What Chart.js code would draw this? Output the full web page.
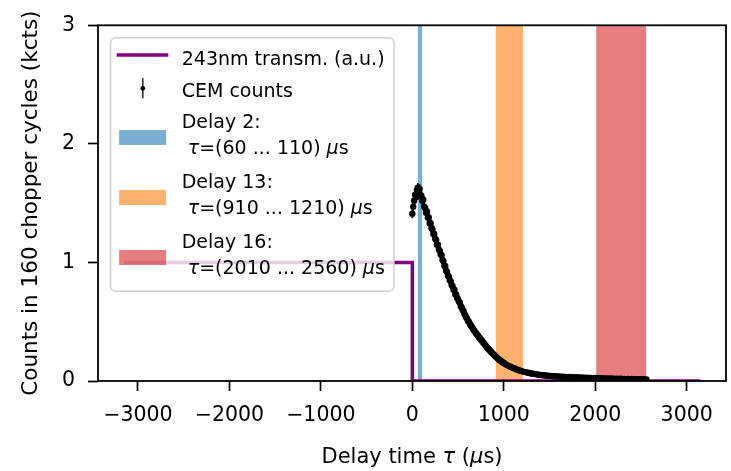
<!DOCTYPE html>
<html><head><meta charset="utf-8">
<script src="https://cdn.jsdelivr.net/npm/chart.js@4.4.1/dist/chart.umd.min.js"></script>
<style>html,body{margin:0;padding:0;background:#fff;} canvas{display:block;}</style>
</head><body>
<canvas id="c" width="731" height="471"></canvas>
<script>
// ---------- data ----------
const xTickValues = [-3000, -2000, -1000, 0, 1000, 2000, 3000];
const yTickValues = [0, 1, 2, 3];
const xTitle = 'Delay time τ (μs)';
const yTitle = 'Counts in 160 chopper cycles (kcts)';

const transLabel = '243nm transm. (a.u.)';
const transTime  = [-3150, 0, 0, 3150];
const transValue = [1, 1, 0, 0];

const bandNames = ['Delay 2', 'Delay 13', 'Delay 16'];
const bandStart = [60, 910, 2010];
const bandEnd   = [110, 1210, 2560];
const bandColors = ['rgba(31,119,180,0.6)', 'rgba(255,127,14,0.6)', 'rgba(214,39,40,0.6)'];

const cemLabel = 'CEM counts';
const cemTime = [
  0,10,20,30,40,50,60,70,80,90,
  100,110,120,130,140,150,160,170,180,190,
  200,210,220,230,240,250,260,270,280,290,
  300,310,320,330,340,350,360,370,380,390,
  400,410,420,430,440,450,460,470,480,490,
  500,510,520,530,540,550,560,570,580,590,
  600,610,620,630,640,650,660,670,680,690,
  700,710,720,730,740,750,760,770,780,790,
  800,810,820,830,840,850,860,870,880,890,
  900,910,920,930,940,950,960,970,980,990,
  1000,1020,1040,1060,1080,
  1100,1120,1140,1160,1180,1200,1220,1240,1260,1280,
  1300,1320,1340,1360,1380,1400,1420,1440,1460,1480,
  1500,1520,1540,1560,1580,1600,1620,1640,1660,1680,
  1700,1720,1740,1760,1780,1800,1820,1840,1860,1880,
  1900,1920,1940,1960,1980,2000,2020,2040,2060,2080,
  2100,2120,2140,2160,2180,2200,2220,2240,2260,2280,
  2300,2320,2340,2360,2380,2400,2420,2440,2460,2480,
  2500,2520,2540,2560
];
const cemCounts = [
  1.41,1.47,1.52,1.57,1.55,1.61,1.63,1.58,1.62,1.57,
  1.56,1.52,1.53,1.47,1.46,1.42,1.43,1.38,1.38,1.33,
  1.33,1.29,1.28,1.24,1.24,1.20,1.19,1.15,1.15,1.11,
  1.10,1.07,1.06,1.02,1.01,0.97,0.97,0.93,0.92,0.89,
  0.88,0.85,0.84,0.81,0.80,0.77,0.77,0.73,0.73,0.70,
  0.69,0.67,0.66,0.63,0.62,0.60,0.59,0.565,0.555,0.535,
  0.525,0.505,0.497,0.48,0.47,0.455,0.446,0.43,0.423,0.408,
  0.401,0.388,0.381,0.366,0.361,0.348,0.341,0.328,0.322,0.309,
  0.302,0.29,0.282,0.272,0.266,0.255,0.247,0.238,0.231,0.222,
  0.216,0.207,0.201,0.193,0.187,0.180,0.175,0.168,0.163,0.157,
  0.152,0.141,0.134,0.124,0.119,
  0.110,0.105,0.097,0.093,0.086,0.083,0.077,0.075,0.070,0.068,
  0.063,0.062,0.058,0.057,0.053,0.052,0.049,0.049,0.046,0.045,
  0.043,0.043,0.040,0.041,0.038,0.038,0.036,0.037,0.034,0.035,
  0.032,0.034,0.031,0.032,0.029,0.031,0.028,0.029,0.027,0.028,
  0.025,0.027,0.024,0.026,0.023,0.025,0.022,0.024,0.021,0.023,
  0.020,0.022,0.019,0.021,0.019,0.020,0.018,0.019,0.017,0.019,
  0.016,0.018,0.016,0.017,0.015,0.017,0.014,0.016,0.014,0.015,
  0.013,0.015,0.013,0.014
];
const cemError = [
  0.038,0.039,0.039,0.040,0.040,0.040,0.041,0.040,0.040,0.040,
  0.040,0.040,0.039,0.039,0.038,0.038,0.038,0.037,0.037,0.036,
  0.036,0.036,0.035,0.035,0.035,0.034,0.034,0.034,0.033,0.033,
  0.033,0.032,0.032,0.032,0.031,0.031,0.030,0.030,0.030,0.029,
  0.029,0.029,0.028,0.028,0.028,0.027,0.027,0.027,0.026,0.026,
  0.026,0.025,0.025,0.025,0.024,0.024,0.024,0.023,0.023,0.023,
  0.022,0.022,0.022,0.021,0.021,0.021,0.020,0.020,0.020,0.019,
  0.019,0.019,0.019,0.018,0.018,0.018,0.017,0.017,0.017,0.017,
  0.016,0.016,0.016,0.016,0.015,0.015,0.015,0.015,0.014,0.014,
  0.014,0.014,0.014,0.013,0.013,0.013,0.013,0.013,0.012,0.012,
  0.012,0.012,0.012,0.011,0.011,
  0.011,0.010,0.010,0.010,0.009,0.009,0.009,0.009,0.008,0.008,
  0.008,0.008,0.008,0.008,0.007,0.007,0.007,0.007,0.007,0.007,
  0.007,0.007,0.006,0.006,0.006,0.006,0.006,0.006,0.006,0.006,
  0.006,0.006,0.006,0.006,0.005,0.006,0.005,0.005,0.005,0.005,
  0.005,0.005,0.005,0.005,0.005,0.005,0.005,0.005,0.005,0.005,
  0.005,0.005,0.004,0.005,0.004,0.004,0.004,0.004,0.004,0.004,
  0.004,0.004,0.004,0.004,0.004,0.004,0.004,0.004,0.004,0.004,
  0.004,0.004,0.004,0.004
];

// ---------- helpers ----------
const FAMILY = '"DejaVu Sans", sans-serif';
const ITALIC_CHARS = 'τμ';
function fmtTick(v) { return v < 0 ? '\u2212' + Math.abs(v) : String(v); }
function richText(ctx, text, x, y, size, align) {
  const runs = [];
  for (const ch of text) {
    const it = ITALIC_CHARS.includes(ch);
    if (runs.length && runs[runs.length - 1].it === it) runs[runs.length - 1].t += ch;
    else runs.push({ t: ch, it });
  }
  const fontOf = it => (it ? 'oblique ' : '') + size + 'px ' + FAMILY;
  let w = 0;
  for (const r of runs) { ctx.font = fontOf(r.it); r.w = ctx.measureText(r.t).width; w += r.w; }
  let cx = align === 'center' ? x - w / 2 : x;
  ctx.textAlign = 'left';
  ctx.textBaseline = 'alphabetic';
  for (const r of runs) { ctx.font = fontOf(r.it); ctx.fillText(r.t, cx, y); cx += r.w; }
}

// ---------- datasets ----------
const yTop = yTickValues[yTickValues.length - 1];
const datasets = [];
datasets.push({
  label: cemLabel, type: 'line', showLine: false,
  data: cemTime.map((t, i) => ({ x: t, y: cemCounts[i] })),
  pointRadius: 3.2, pointBackgroundColor: '#000', pointBorderWidth: 0,
  borderColor: '#000', order: 0, errors: cemError
});
datasets.push({
  label: transLabel, type: 'line',
  data: transTime.map((t, i) => ({ x: t, y: transValue[i] })),
  borderColor: '#800080', borderWidth: 3.5, pointRadius: 0, tension: 0,
  fill: false, clip: 0, order: 1, borderCapStyle: 'butt', borderJoinStyle: 'miter'
});
bandNames.forEach((n, i) => {
  datasets.push({
    label: n + ':\n τ=(' + bandStart[i] + ' ... ' + bandEnd[i] + ') μs', type: 'line',
    data: [{ x: bandStart[i], y: yTop }, { x: bandEnd[i], y: yTop }],
    borderColor: 'rgba(0,0,0,0)', borderWidth: 0, pointRadius: 0,
    backgroundColor: bandColors[i], fill: 'origin', clip: 0, order: 2, isBand: true
  });
});

// ---------- plugins ----------
const errorBarPlugin = {
  id: 'errorBars',
  beforeDatasetDraw(chart, args) {
    const ds = chart.data.datasets[args.index];
    if (!ds.errors) return;
    const xs = chart.scales.x, ys = chart.scales.y, ctx = chart.ctx;
    ctx.save();
    ctx.strokeStyle = '#000'; ctx.lineWidth = 1.6;
    ctx.beginPath();
    ds.data.forEach((p, i) => {
      const px = xs.getPixelForValue(p.x);
      ctx.moveTo(px, ys.getPixelForValue(p.y - ds.errors[i]));
      ctx.lineTo(px, ys.getPixelForValue(p.y + ds.errors[i]));
    });
    ctx.stroke();
    ctx.restore();
  }
};
const framePlugin = {
  id: 'frame',
  afterDatasetsDraw(chart) {
    const { ctx, chartArea: a } = chart;
    ctx.save();
    ctx.strokeStyle = '#000'; ctx.lineWidth = 1.8;
    ctx.strokeRect(a.left, a.top, a.right - a.left, a.bottom - a.top);
    ctx.restore();
  }
};
const legendPlugin = {
  id: 'mplLegend',
  afterDraw(chart) {
    const { ctx, chartArea: a } = chart;
    const L = a.left + 12.5, T = a.top + 12.5, W = 283.5, H = 253.5;
    const fs = 19;
    ctx.save();
    ctx.beginPath();
    ctx.roundRect(L, T, W, H, 5);
    ctx.fillStyle = 'rgba(255,255,255,0.8)'; ctx.fill();
    ctx.strokeStyle = 'rgba(204,204,204,0.9)'; ctx.lineWidth = 1.5; ctx.stroke();
    const tx = L + 71.2;
    const dsTrans = chart.data.datasets[1];
    ctx.strokeStyle = dsTrans.borderColor; ctx.lineWidth = 3.5;
    ctx.beginPath(); ctx.moveTo(L + 6.2, T + 17.2); ctx.lineTo(L + 57.8, T + 17.2); ctx.stroke();
    ctx.fillStyle = '#000';
    richText(ctx, dsTrans.label, tx, T + 27.2, fs, 'left');
    ctx.strokeStyle = '#000'; ctx.lineWidth = 1.3;
    ctx.beginPath(); ctx.moveTo(L + 32.3, T + 40.5); ctx.lineTo(L + 32.3, T + 60.5); ctx.stroke();
    ctx.beginPath(); ctx.arc(L + 32.3, T + 50.5, 2.4, 0, Math.PI * 2); ctx.fill();
    richText(ctx, chart.data.datasets[0].label, tx, T + 58.8, fs, 'left');
    const bands = chart.data.datasets.filter(d => d.isBand);
    bands.forEach((d, i) => {
      const top = T + 92.2 + i * 60;
      ctx.fillStyle = d.backgroundColor;
      ctx.fillRect(L + 8.6, top, 47, 15);
      ctx.fillStyle = '#000';
      const lines = d.label.split('\n');
      richText(ctx, lines[0], tx, T + 90.5 + i * 59.7, fs, 'left');
      richText(ctx, lines[1], tx, T + 116.5 + i * 60, fs, 'left');
    });
    ctx.fillStyle = '#000';
    richText(ctx, xTitle, (a.left + a.right) / 2, 463, 21, 'center');
    ctx.restore();
  }
};

// ---------- chart ----------
Chart.defaults.font.family = FAMILY;
const tickFont = { size: 20.5, family: FAMILY };
new Chart(document.getElementById('c'), {
  type: 'line',
  data: { datasets },
  options: {
    responsive: false, animation: false, events: [],
    layout: { padding: { top: 17, right: 5, left: 0, bottom: 0 } },
    plugins: { legend: { display: false }, tooltip: { enabled: false } },
    scales: {
      x: {
        type: 'linear', min: -3437, max: 3430,
        afterBuildTicks: s => { s.ticks = xTickValues.map(v => ({ value: v })); },
        ticks: { callback: v => fmtTick(v), font: tickFont, color: '#000', padding: 12, maxRotation: 0, autoSkip: false },
        grid: { display: true, drawOnChartArea: false, drawTicks: true, tickLength: 10, tickWidth: 1.7, tickColor: '#000' },
        border: { display: false },
        afterFit: s => { s.height = 90; }
      },
      y: {
        type: 'linear', min: 0, max: yTop,
        afterBuildTicks: s => { s.ticks = yTickValues.map(v => ({ value: v })); },
        ticks: { callback: v => fmtTick(v), font: tickFont, color: '#000', padding: 13, autoSkip: false },
        grid: { display: true, drawOnChartArea: false, drawTicks: true, tickLength: 10, tickWidth: 1.7, tickColor: '#000' },
        border: { display: false },
        title: { display: true, text: yTitle, font: { size: 21.5, family: FAMILY }, color: '#000', padding: { top: 19, bottom: 0 } },
        afterFit: s => { s.width = 98; }
      }
    }
  },
  plugins: [errorBarPlugin, framePlugin, legendPlugin]
});
</script>
</body></html>
